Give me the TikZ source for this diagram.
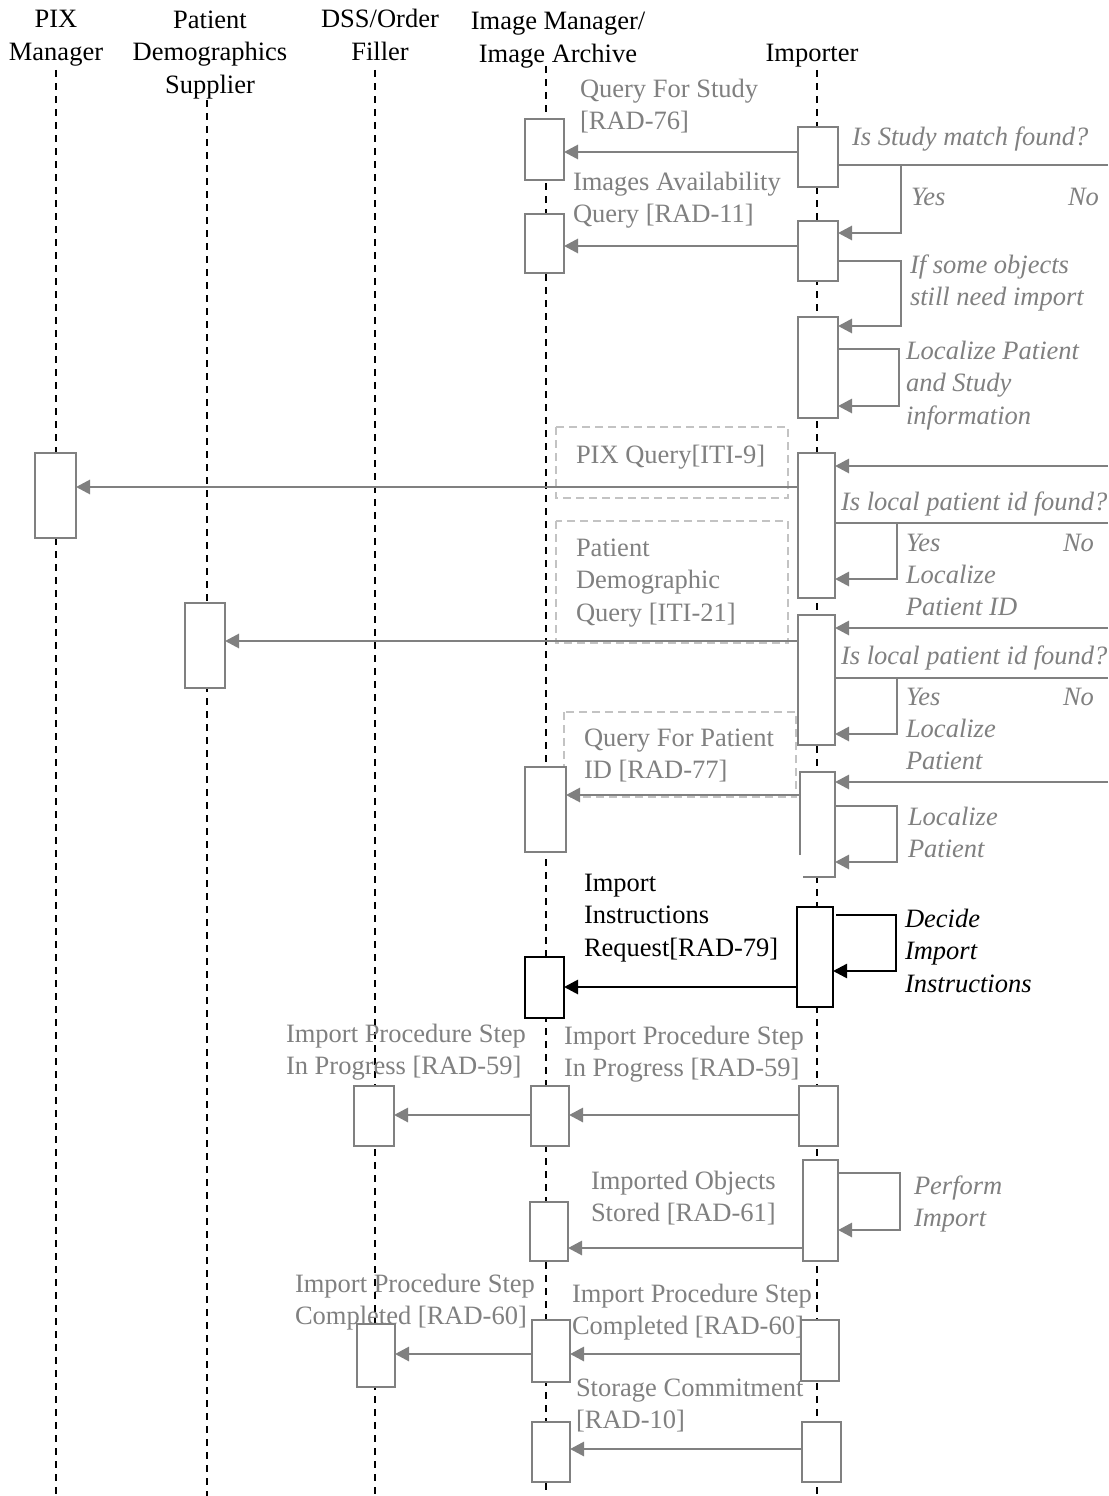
\documentclass[tikz,border=0pt]{standalone}
\usepackage{fontspec}
\setmainfont{Liberation Serif}
\usetikzlibrary{arrows.meta}
\definecolor{gcol}{RGB}{128,128,128}
\definecolor{lcol}{RGB}{195,195,195}
\newcommand\actbox[6]{\node[#1, minimum width={(#5-#3)*1pt}, minimum height={(#6-#4)*1pt}] (#2) at (#3,#4) {};}
\begin{document}
\begin{tikzpicture}[x=1pt,y=-1pt,
  every node/.style={inner sep=0pt, outer sep=0pt},
  lbl/.style={font=\fontsize{26.5}{32.5}\selectfont, text=gcol, align=left, anchor=base west},
  ilbl/.style={lbl, font=\fontsize{26.5}{32.5}\selectfont\itshape},
  klbl/.style={lbl, text=black},
  kilbl/.style={ilbl, text=black},
  hdr/.style={font=\fontsize{26.5}{32.5}\selectfont, align=center, anchor=base},
  life/.style={draw=black, line width=1.4pt, dash pattern=on 7pt off 6pt},
  gbox/.style={draw=gcol, line width=2pt, fill=white, anchor=north west},
  kbox/.style={draw=black, line width=2pt, fill=white, anchor=north west},
  garr/.style={draw=gcol, line width=2.8pt, -{Triangle[length=14pt,width=14pt]}},
  karr/.style={draw=black, line width=2.8pt, -{Triangle[length=14pt,width=14pt]}},
  gline/.style={draw=gcol, line width=2.5pt},
  dbox/.style={draw=lcol, line width=1.3pt, dash pattern=on 8pt off 5pt},
]
\fill[white] (0,0) rectangle (1108,1496);
\useasboundingbox (0,0) rectangle (1108,1496);

% headers (anchor = baseline of last line)
\node[hdr] (hpix) at (56,60.5) {PIX\\Manager};
\node[hdr] (hpds) at (210,93) {Patient\\Demographics\\Supplier};
\node[hdr] (hdss) at (380,60.5) {DSS/Order\\Filler};
\node[hdr] (him) at (558,62.5) {Image Manager/\\Image Archive};
\node[hdr] (himp) at (812,62) {Importer};

% lifelines
\coordinate (lpixt) at (56,70);   \coordinate (lpixb) at (56,1496);
\coordinate (lpdst) at (207,100); \coordinate (lpdsb) at (207,1496);
\coordinate (ldsst) at (375,70);  \coordinate (ldssb) at (375,1496);
\coordinate (limt) at (546,66);   \coordinate (limb) at (546,1496);
\coordinate (limpt) at (817,70);  \coordinate (limpb) at (817,1496);
\draw[life] (lpixt) -- (lpixb);
\draw[life] (lpdst) -- (lpdsb);
\draw[life] (ldsst) -- (ldssb);
\draw[life] (limt) -- (limb);
\draw[life] (limpt) -- (limpb);

% dashed label frames
\draw[dbox] (556,427) rectangle (788,498);
\draw[dbox] (556,521) rectangle (788,643);
\draw[dbox] (564,712) rectangle (796,797);

% labels (anchor = baseline of last line)
\node[lbl] (t1) at (580,129.5) {Query For Study\\{[RAD-76]}};
\node[ilbl] (t2) at (852,145) {Is Study match found?};
\node[ilbl] (t3) at (911,205) {Yes};
\node[ilbl] (t4) at (1068,205) {No};
\node[lbl] (t5) at (573,222.5) {Images Availability\\Query [RAD-11]};
\node[ilbl] (t6) at (910,305.5) {If some objects\\still need import};
\node[ilbl] (t7) at (906,424) {Localize Patient\\and Study\\information};
\node[lbl] (t8) at (576,463) {PIX Query[ITI-9]};
\node[ilbl] (t9) at (841,510) {Is local patient id found?};
\node[ilbl] (t10) at (906,551) {Yes};
\node[ilbl] (t11) at (1063,551) {No};
\node[ilbl] (t12) at (906,615.5) {Localize\\Patient ID};
\node[lbl] (t13) at (576,621) {Patient\\Demographic\\Query [ITI-21]};
\node[ilbl] (t14) at (841,664) {Is local patient id found?};
\node[ilbl] (t15) at (906,705) {Yes};
\node[ilbl] (t16) at (1063,705) {No};
\node[ilbl] (t17) at (906,769.5) {Localize\\Patient};
\node[lbl] (t18) at (584,778.5) {Query For Patient\\ID [RAD-77]};
\node[ilbl] (t19) at (908,857.5) {Localize\\Patient};
\node[klbl] (t20) at (584,956) {Import\\Instructions\\Request[RAD-79]};
\node[kilbl] (t21) at (905,992) {Decide\\Import\\Instructions};
\node[lbl] (t22) at (286,1074.5) {Import Procedure Step\\In Progress [RAD-59]};
\node[lbl] (t23) at (564,1076.5) {Import Procedure Step\\In Progress [RAD-59]};
\node[lbl] (t24) at (591,1221.5) {Imported Objects\\Stored [RAD-61]};
\node[ilbl] (t25) at (914,1226.5) {Perform\\Import};
\node[lbl] (t26) at (295,1324.5) {Import Procedure Step\\Completed [RAD-60]};
\node[lbl] (t27) at (572,1334.5) {Import Procedure Step\\Completed [RAD-60]};
\node[lbl] (t28) at (576,1428.5) {Storage Commitment\\{[RAD-10]}};

% activation boxes
\actbox{gbox}{pix1}{35}{453}{76}{538}
\actbox{gbox}{pds1}{185}{603}{225}{688}
\actbox{gbox}{dss1}{354}{1086}{394}{1146}
\actbox{gbox}{dss2}{357}{1324}{395}{1387}
\actbox{gbox}{im1}{525}{119}{564}{180}
\actbox{gbox}{im2}{525}{214}{564}{273}
\actbox{gbox}{im3}{525}{767}{566}{852}
\actbox{kbox}{im4}{525}{957}{564}{1018}
\actbox{gbox}{im5}{531}{1086}{569}{1146}
\actbox{gbox}{im6}{530}{1202}{568}{1261}
\actbox{gbox}{im7}{532}{1320}{570}{1382}
\actbox{gbox}{im8}{532}{1422}{570}{1482}
\actbox{gbox}{imp1}{798}{127}{838}{187}
\actbox{gbox}{imp2}{798}{221}{838}{281}
\actbox{gbox}{imp3}{798}{317}{838}{418}
\actbox{gbox}{imp4}{798}{453}{835}{598}
\actbox{gbox}{imp5}{798}{615}{835}{745}
\actbox{gbox, draw=none}{imp6}{800}{772}{835}{877}
\draw[draw=gcol, line width=2pt] (imp6.south west |- 0,855) -- (imp6.north west) -- (imp6.north east) -- (imp6.south east) -- ([xshift=3pt]imp6.south west);
\actbox{kbox}{imp7}{797}{907}{833}{1007}
\actbox{gbox}{imp8}{799}{1086}{838}{1146}
\actbox{gbox}{imp9}{803}{1160}{838}{1261}
\actbox{gbox}{imp10}{801}{1320}{839}{1381}
\actbox{gbox}{imp11}{802}{1422}{841}{1482}

% messages
\draw[garr] (imp1.west |- 0,152) -- (im1.east |- 0,152);
\draw[garr] (imp2.west |- 0,246) -- (im2.east |- 0,246);
\draw[garr] (imp4.west |- 0,487) -- (pix1.east |- 0,487);
\draw[garr] (imp5.west |- 0,641) -- (pds1.east |- 0,641);
\draw[garr] (imp6.west |- 0,795) -- (im3.east |- 0,795);
\draw[karr] (imp7.west |- 0,987) -- (im4.east |- 0,987);
\draw[garr] (imp8.west |- 0,1115) -- (im5.east |- 0,1115);
\draw[garr] (im5.west |- 0,1115) -- (dss1.east |- 0,1115);
\draw[garr] (imp9.west |- 0,1248) -- (im6.east |- 0,1248);
\draw[garr] (imp10.west |- 0,1354) -- (im7.east |- 0,1354);
\draw[garr] (im7.west |- 0,1354) -- (dss2.east |- 0,1354);
\draw[garr] (imp11.west |- 0,1449) -- (im8.east |- 0,1449);

% decisions, branches and self loops
\coordinate (e1) at (1108,165);
\coordinate (k1) at (901,233);
\draw[gline] (imp1.east |- e1) -- (e1);
\draw[garr] (k1 |- e1) -- (k1) -- (imp2.east |- k1);
\coordinate (k2) at (901,326);
\draw[garr] (imp2.east |- 0,261) -| (k2) -- (imp3.east |- k2);
\coordinate (k3) at (899,406);
\draw[garr] (imp3.east |- 0,349) -| (k3) -- (imp3.east |- k3);

\coordinate (e2) at (1108,466);
\draw[garr] (e2) -- (imp4.east |- e2);
\coordinate (e3) at (1108,523);
\coordinate (k4) at (897,579);
\draw[gline] (imp4.east |- e3) -- (e3);
\draw[garr] (k4 |- e3) -- (k4) -- (imp4.east |- k4);

\coordinate (e4) at (1108,628);
\draw[garr] (e4) -- (imp5.east |- e4);
\coordinate (e5) at (1108,678);
\coordinate (k5) at (897,734);
\draw[gline] (imp5.east |- e5) -- (e5);
\draw[garr] (k5 |- e5) -- (k5) -- (imp5.east |- k5);

\coordinate (e6) at (1108,782);
\draw[garr] (e6) -- (imp6.east |- e6);
\coordinate (k6) at (897,862);
\draw[garr] (imp6.east |- 0,806) -| (k6) -- (imp6.east |- k6);

\coordinate (k7) at (896,971);
\draw[draw=black, line width=2.5pt, -{Triangle[length=14pt,width=14pt]}] ([xshift=3pt]imp7.east |- 0,915) -| (k7) -- (imp7.east |- k7);

\coordinate (k9) at (900,1230);
\draw[garr] (imp9.east |- 0,1173) -| (k9) -- (imp9.east |- k9);
\end{tikzpicture}
\end{document}
